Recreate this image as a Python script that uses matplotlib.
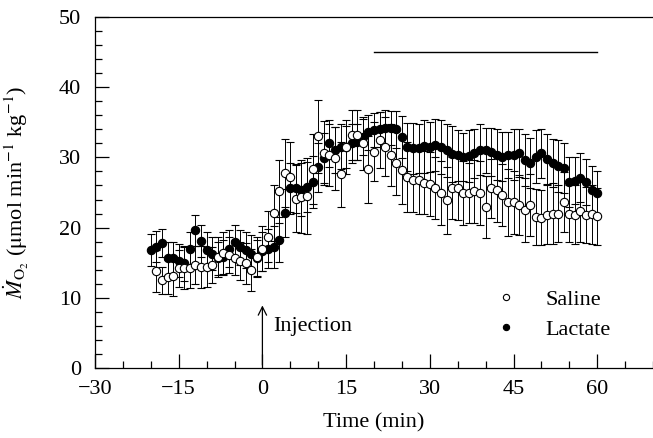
import matplotlib
matplotlib.use("Agg")
import matplotlib.pyplot as plt
from matplotlib.ticker import MultipleLocator

plt.rcParams['font.family'] = ['Liberation Serif', 'DejaVu Serif']
plt.rcParams['mathtext.fontset'] = 'stix'

# lactate group, one point per minute from -20 to 60
lactate_t = list(range(-20, 61))
lactate_v = [16.8, 17.3, 17.8, 15.6, 15.6, 15.3, 14.9, 17.0, 19.6, 18.1,
             16.8, 16.3, 15.6, 15.8, 17.0, 17.9, 17.2, 16.8, 16.3, 15.7,
             16.6, 17.0, 17.2, 18.3, 22.1, 25.6, 25.6, 25.4, 25.8, 26.5,
             28.6, 29.9, 32.0, 31.1, 31.5, 31.5, 32.0, 32.2, 32.9, 33.6,
             33.9, 34.0, 34.2, 34.2, 34.0, 32.9, 31.5, 31.3, 31.3, 31.6,
             31.5, 31.8, 31.5, 31.0, 30.5, 30.3, 30.1, 30.2, 30.6, 31.1,
             31.0, 30.8, 30.4, 30.1, 30.3, 30.4, 30.6, 29.6, 29.2, 30.1,
             30.6, 29.8, 29.2, 28.8, 28.5, 26.5, 26.7, 27.1, 26.5, 25.4,
             24.9]
lactate_e = [2.3, 2.2, 2.0, 2.3, 2.4, 2.3, 2.5, 2.4, 2.2, 2.3,
             2.5, 2.4, 2.3, 2.5, 2.6, 2.4, 2.5, 2.6, 2.7, 2.6,
             2.8, 2.8, 3.0, 3.2, 3.4, 3.6, 3.5, 3.8, 3.6, 3.7,
             3.5, 3.6, 3.4, 3.3, 3.2, 3.0, 2.8, 2.6, 2.6, 2.5,
             2.4, 2.5, 2.5, 2.4, 2.6, 3.0, 3.4, 3.6, 3.5, 3.8,
             3.6, 3.7, 3.9, 3.8, 4.0, 3.6, 3.4, 3.7, 3.5, 3.6,
             3.2, 3.4, 3.6, 3.5, 3.3, 3.6, 3.4, 3.7, 3.5, 3.8,
             3.5, 3.6, 3.4, 3.7, 3.5, 3.6, 3.4, 3.5, 3.3, 3.4,
             3.2]

# saline group, one point per minute from -19 to 60
saline_t = list(range(-19, 61))
saline_v = [13.8, 12.5, 13.0, 13.1, 14.2, 14.2, 14.2, 14.7, 14.4, 14.4,
            14.7, 15.8, 16.4, 16.1, 15.7, 15.3, 14.9, 14.0, 15.8, 17.0,
            18.7, 22.1, 25.2, 27.8, 27.2, 24.1, 24.4, 24.5, 28.3, 33.0,
            30.6, 30.3, 29.9, 27.6, 31.5, 33.2, 33.2, 32.0, 28.3, 30.8,
            32.5, 31.5, 30.3, 29.2, 28.2, 27.2, 26.8, 26.8, 26.4, 26.2,
            25.6, 24.9, 23.9, 25.6, 25.6, 24.9, 24.9, 25.2, 24.9, 22.9,
            25.6, 25.4, 24.6, 23.6, 23.6, 23.2, 22.5, 23.2, 21.5, 21.4,
            21.8, 22.0, 22.0, 23.6, 22.0, 21.8, 22.3, 21.8, 21.9, 21.6]
saline_e = [3.0, 1.9, 2.4, 2.8, 2.6, 3.0, 2.8, 2.7, 3.0, 2.9,
            2.6, 2.8, 3.0, 2.6, 2.5, 2.7, 2.9, 3.0, 2.8, 3.2,
            3.6, 4.0, 4.5, 4.8, 5.0, 4.8, 5.2, 5.4, 5.0, 5.2,
            4.6, 4.4, 4.5, 4.6, 3.8, 3.6, 3.5, 3.8, 4.8, 4.2,
            4.0, 4.2, 4.4, 4.6, 4.8, 5.0, 4.6, 4.8, 4.5, 4.6,
            4.4, 4.6, 4.8, 4.4, 4.5, 4.6, 4.3, 4.5, 4.6, 4.4,
            4.2, 4.6, 4.4, 4.8, 4.5, 4.3, 4.6, 4.4, 4.0, 3.9,
            4.2, 4.4, 4.0, 4.3, 4.1, 4.2, 4.4, 4.0, 4.2, 4.1]

bar_t = [20, 60]
bar_y = [45, 45]

fs = 16

fig = plt.figure(figsize=(6.53, 4.38), dpi=100)
ax = fig.add_axes([0.1455, 0.160, 0.8545, 0.801])

ax.errorbar(saline_t, saline_v, yerr=saline_e, fmt='o', ms=6, mfc='white', mec='black',
            mew=0.8, ecolor='black', elinewidth=0.7, capsize=3, capthick=0.7, label='Saline', zorder=3)
ax.errorbar(lactate_t, lactate_v, yerr=lactate_e, fmt='o', ms=6, mfc='black', mec='black',
            mew=0.8, ecolor='black', elinewidth=0.7, capsize=3, capthick=0.7, label='Lactate', zorder=2)

ax.plot(bar_t, bar_y, color='black', lw=1.0)

ax.annotate('', xy=(0, 9.3), xytext=(0, 0),
            arrowprops=dict(arrowstyle='->', color='black', lw=0.9, mutation_scale=15))
ax.text(1.9, 5.9, 'Injection', fontsize=fs, va='center', ha='left')

handles, labels = ax.get_legend_handles_labels()
handles = [h[0] for h in handles]
ax.legend(handles, labels, loc='upper left', bbox_to_anchor=(0.68, 0.28), frameon=False,
          fontsize=fs, handlelength=1.0, handletextpad=1.3, labelspacing=0.4, markerscale=0.75)

ax.set_xlim(-30, 70)
ax.set_ylim(0, 50)
ax.set_xticks([-30, -15, 0, 15, 30, 45, 60])
ax.set_xticklabels(['\u221230', '\u221215', '0', '15', '30', '45', '60'])
ax.xaxis.set_minor_locator(MultipleLocator(5))
ax.yaxis.set_major_locator(MultipleLocator(10))
ax.yaxis.set_minor_locator(MultipleLocator(2))
ax.tick_params(which='both', direction='in', top=False, right=False, labelsize=fs, width=0.9)
ax.tick_params(which='major', length=10)
ax.tick_params(which='minor', length=5)
ax.tick_params(axis='x', which='major', pad=9)
ax.tick_params(axis='y', which='major', pad=10)
ax.spines['right'].set_visible(False)
for s in ['top', 'bottom', 'left']:
    ax.spines[s].set_linewidth(0.9)

ax.set_xlabel('Time (min)', fontsize=fs, labelpad=10)
ax.set_ylabel(r'$\dot{M}_{\mathrm{O_2}}$ ($\mathrm{\mu}$mol min$^{-1}$ kg$^{-1}$)', fontsize=fs, labelpad=20)

fig.savefig('out.png', dpi=100)
